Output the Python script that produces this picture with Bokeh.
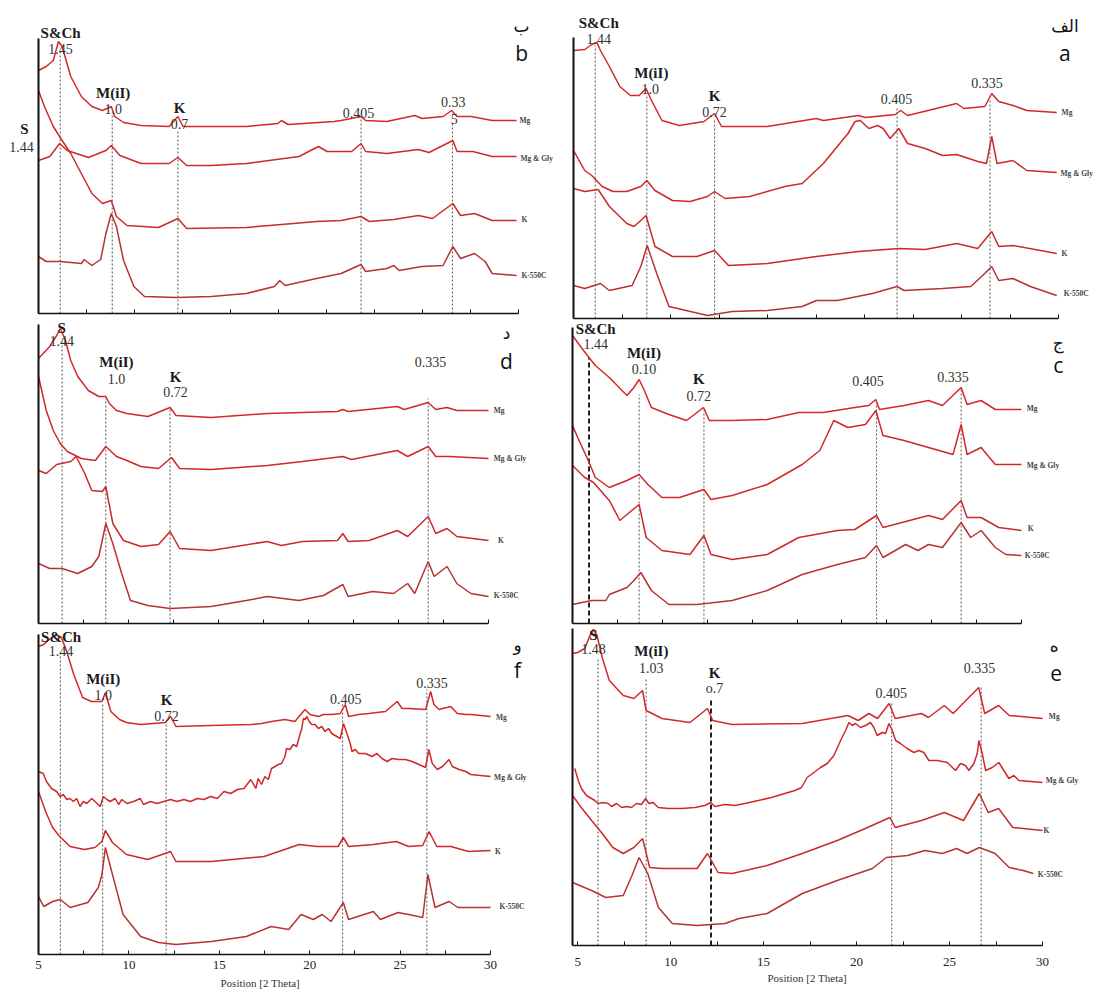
from bokeh.plotting import figure
from bokeh.layouts import column, row
from bokeh.models import Range1d, Label, FixedTicker, Title
from bokeh.embed import file_html
from bokeh.resources import INLINE

TRACE_NAMES = ["Mg", "Mg & Gly", "K", "K-550C"]
TICKS = [5, 10, 15, 20, 25, 30]
MINOR_TICKS = [7.5, 12.5, 17.5, 22.5, 27.5]
AXIS_TITLE = "Position [2 Theta]"

# ---------------- panel b (top left) ----------------
b_mg_2t = [5.0,5.4,5.77,6.04,6.23,6.68,7.23,7.78,8.33,8.79,8.97,9.43,10.34,11.8,12.26,12.53,14.0,15.83,17.47,17.65,18.0,20.4,20.76,21.8,22.04,23.14,24.6,24.97,26.07,26.52,26.8,27.53,28.63,29.9]
b_mg_int = [243,247,253,272,267,237,217,207,203,207,197,191,188,187,197,187,187,187,190,193,189,192,193,197,193,192,198,195,197,203,197,197,193,193]
b_gly_2t = [5.0,5.59,6.1,6.5,7.6,8.51,8.79,9.24,10.34,11.8,12.26,12.72,14.0,15.83,18.57,19.58,20.03,21.31,21.8,22.04,23.14,24.79,25.34,26.58,26.8,27.62,28.63,29.9]
b_gly_int = [153,157,170,163,156,163,168,158,150,150,156,148,148,150,157,167,162,162,170,162,160,164,161,173,162,162,157,157]
b_k_2t = [5.0,5.31,5.77,6.23,6.68,7.23,7.78,8.33,8.79,9.06,9.61,11.25,12.26,12.72,15.83,17.66,19.48,20.76,21.8,22.23,23.51,24.79,25.52,26.58,26.98,27.71,28.63,29.9]
b_k_int = [223,207,187,173,160,140,120,110,113,97,88,86,95,85,86,89,92,93,97,92,94,98,95,110,98,100,93,93]
b_k550_2t = [5.0,5.4,6.13,7.23,7.38,7.78,8.24,8.51,8.79,9.06,9.43,9.97,10.52,12.17,14.0,15.83,17.29,17.56,17.84,19.48,20.76,21.8,22.04,23.14,23.51,23.78,24.97,26.07,26.58,26.98,27.71,28.26,28.63,29.9]
b_k550_int = [57,52,52,50,54,48,54,80,100,87,53,27,17,16,17,20,27,33,28,35,40,49,42,45,48,43,47,48,67,55,60,52,40,38]
b_refl_2t = [6.13, 8.84, 12.26, 21.8, 26.56]
b_refl_top = [263, 200, 183, 195, 190]
b_labels = [("S&Ch", 6.15, 281, "min"), ("1.45", 6.15, 265, "num"), ("M(iI)", 8.89, 221, "min"),
            ("1.0", 8.89, 205, "num"), ("K", 12.35, 206, "min"), ("0.7", 12.35, 190, "num"),
            ("0.405", 21.67, 201, "num"), ("0.33", 26.6, 212, "num"), ("5", 26.65, 195, "num"),
            ("ب", 30.16, 288, "ar"), ("b", 30.16, 261, "let")]
b_left_labels = [("S", 24, 185, "min"), ("1.44", 21, 167, "num")]
b_trace_lab = [(30.05, 193), (30.1, 155), (30.15, 94), (30.15, 38)]

# ---------------- panel a (top right) ----------------
a_mg_2t = [5.0,5.58,5.94,6.21,6.39,6.85,7.39,7.93,8.38,8.74,9.02,9.56,10.46,11.73,12.27,12.63,14.99,17.52,17.88,19.69,20.05,21.59,21.86,22.22,24.75,25.12,26.2,26.56,26.92,27.65,28.37,29.91]
a_mg_int = [268,269,274,276,268,252,232,223,223,230,218,198,193,197,205,192,192,200,198,203,201,204,208,203,215,210,212,225,217,213,208,206]
a_gly_2t = [5.0,5.58,5.94,6.48,7.03,7.75,8.47,8.78,9.2,10.1,11.01,11.91,12.27,12.81,14.08,15.89,16.79,17.88,18.6,19.15,19.51,19.78,20.23,20.68,20.96,21.32,21.77,22.22,23.13,24.03,24.75,25.84,26.29,26.56,26.83,27.65,28.37,29.91]
a_gly_int = [168,148,143,132,127,127,132,138,128,118,117,122,127,120,122,132,135,155,172,185,197,198,190,193,190,180,190,175,170,163,164,157,155,182,155,158,148,146]
a_k_2t = [5.0,5.58,6.27,6.85,7.75,8.11,8.47,8.74,9.2,10.1,11.37,12.27,12.99,14.99,17.52,19.69,21.77,23.13,24.75,25.84,26.56,26.92,27.65,29.91]
a_k_int = [130,127,129,112,95,92,98,103,72,62,62,68,53,55,62,67,70,69,75,70,87,72,73,65]
a_k550_2t = [5.0,5.58,6.39,6.85,8.02,8.47,8.8,9.29,9.92,11.91,13.18,14.99,16.79,17.52,18.6,20.41,21.68,22.04,24.03,25.48,26.2,26.56,26.92,27.65,28.55,29.91]
a_k550_int = [33,30,35,28,33,52,73,45,12,3,7,8,12,18,18,25,32,28,30,32,45,52,38,40,32,23]
a_refl_2t = [6.12, 8.78, 12.27, 21.68, 26.47]
a_refl_top = [273, 222, 198, 212, 218]
a_labels = [("S&Ch", 6.3, 296, "min"), ("1.44", 6.3, 280, "num"), ("M(iI)", 9.01, 246, "min"),
            ("1.0", 8.96, 230, "num"), ("K", 12.27, 223, "min"), ("0.72", 12.27, 207, "num"),
            ("0.405", 21.65, 220, "num"), ("0.335", 26.31, 236, "num"), ("الف", 30.33, 293, "ar"), ("a", 30.33, 266, "let")]
a_trace_lab = [(30.16, 206), (30.1, 145), (30.16, 65), (30.27, 25)]

# ---------------- panel d (middle left) ----------------
d_mg_2t = [5.0,5.62,6.01,6.21,6.5,6.79,7.18,7.77,8.35,8.74,8.94,9.33,9.91,11.08,12.31,12.64,14.59,17.71,21.61,21.91,22.2,24.93,25.32,26.65,27.07,27.7,28.24,30.0]
d_mg_int = [265,277,288,295,283,263,247,233,227,227,220,213,210,207,216,208,206,210,212,214,212,217,214,221,214,216,213,213]
d_gly_2t = [5.0,5.43,5.82,6.21,6.6,7.38,8.16,8.74,9.33,9.91,10.69,11.67,12.39,12.84,14.59,17.71,19.66,21.91,22.39,24.93,25.51,26.65,27.07,27.85,30.0]
d_gly_int = [247,213,193,180,172,165,163,177,167,163,157,155,166,155,154,158,162,167,164,173,167,177,167,167,165]
d_k_2t = [5.0,5.43,6.01,6.79,7.09,7.57,7.96,8.55,8.74,9.13,9.72,10.69,11.67,12.31,12.84,14.59,17.71,18.49,19.66,21.61,21.91,22.2,23.37,24.93,25.51,26.65,27.07,27.7,28.24,30.0]
d_k_int = [153,150,159,162,167,150,133,132,137,100,83,77,79,92,75,73,82,78,82,83,90,82,83,93,87,107,90,95,87,83]
d_k550_2t = [5.0,5.62,6.31,7.18,7.96,8.35,8.74,9.13,9.62,10.11,11.08,12.31,14.59,16.54,17.71,19.47,20.83,21.91,22.2,23.56,24.73,25.51,25.9,26.65,26.98,27.7,28.24,29.02,30.0]
d_k550_int = [60,55,55,50,57,67,100,80,50,23,18,15,17,23,27,23,28,39,27,32,30,40,30,62,47,57,40,30,27]
d_refl_2t = [6.31, 8.74, 12.31, 26.65]
d_refl_top = [285, 225, 215, 225]
d_labels = [("S", 6.29, 296, "min"), ("1.44", 6.29, 283, "num"), ("M(iI)", 9.33, 262, "min"),
            ("1.0", 9.33, 245, "num"), ("K", 12.61, 247, "min"), ("0.72", 12.61, 232, "num"),
            ("0.335", 26.78, 262, "num"), ("د", 31.0, 291, "ar"), ("d", 31.0, 263, "let")]
d_trace_lab = [(30.29, 213), (30.29, 165), (30.53, 83), (30.29, 28)]

# ---------------- panel c (middle right) ----------------
c_mg_2t = [5.0,5.49,5.92,6.27,7.05,8.03,8.42,8.71,9.0,9.39,10.37,11.35,11.93,12.29,12.62,13.89,15.84,17.6,18.96,20.72,21.5,21.89,22.09,23.46,24.82,25.6,26.64,26.97,27.75,28.54,30.0]
c_mg_int = [288,276,266,258,246,228,236,244,233,216,209,203,211,216,203,203,204,211,211,216,218,224,214,218,223,218,236,219,223,214,214]
c_gly_2t = [5.0,5.29,5.88,6.27,7.05,8.03,8.71,9.2,9.98,10.96,12.32,12.71,13.89,15.84,17.79,18.77,19.55,20.33,21.31,21.89,22.29,23.46,24.82,26.19,26.64,26.97,27.75,28.54,30.0]
c_gly_int = [198,186,163,146,136,143,149,139,126,126,134,124,128,139,159,173,203,196,199,213,188,183,176,169,199,169,176,159,159]
c_k_2t = [5.0,5.68,6.17,7.05,7.64,8.03,8.71,9.1,9.98,11.54,12.32,12.71,13.89,15.84,17.6,19.75,20.72,21.93,22.29,24.82,25.6,26.64,26.97,27.75,28.73,30.0]
c_k_int = [158,146,141,123,103,109,119,86,73,69,88,69,64,69,86,93,94,108,96,108,104,123,106,106,96,93]
c_k550_2t = [5.0,6.07,6.86,7.05,8.03,8.42,8.81,9.39,10.37,11.93,13.89,15.84,17.79,19.75,21.31,21.93,22.29,23.55,24.24,24.82,25.6,26.64,27.17,27.75,28.54,29.12,30.0]
c_k550_int = [19,23,23,29,36,43,51,33,19,19,23,33,49,59,66,78,66,79,73,79,76,101,86,93,76,69,68]
c_refl_2t = [5.92, 8.71, 12.32, 21.93, 26.64]
c_refl_top = [266, 229, 213, 224, 236]
c_labels = [("S&Ch", 6.29, 295, "min"), ("1.44", 6.29, 280, "num"), ("M(iI)", 8.98, 271, "min"),
            ("0.10", 8.98, 255, "num"), ("K", 12.03, 245, "min"), ("0.72", 12.03, 228, "num"),
            ("0.405", 21.45, 243, "num"), ("0.335", 26.19, 247, "num"), ("ج", 32.05, 281, "ar"), ("c", 32.05, 259, "let")]
c_trace_lab = [(30.29, 215), (30.29, 158), (30.35, 95), (30.18, 68)]

# ---------------- panel f (bottom left) ----------------
f_mg_2t = [5.0,5.29,5.58,5.97,6.27,6.56,6.95,7.44,7.92,8.51,8.7,9.0,9.48,9.87,10.65,12.02,12.31,12.6,14.55,16.78,17.34,17.89,18.63,19.18,19.74,20.02,20.48,20.76,21.22,21.69,21.97,22.15,22.71,23.26,24.19,24.84,25.11,25.48,26.41,26.69,26.87,27.15,27.8,28.17,28.63,28.91,30.0]
f_mg_int = [308,310,315,320,317,303,280,257,253,253,262,243,235,232,230,232,238,228,229,230,231,233,235,233,245,240,238,240,240,241,250,238,240,241,243,253,246,246,245,263,250,245,248,241,240,240,238]
f_gly_2t = [5.0,5.26,5.44,5.72,6.0,6.19,6.37,6.56,6.74,6.93,7.11,7.3,7.48,7.67,7.94,8.13,8.41,8.59,8.78,8.96,9.24,9.43,9.61,9.89,10.26,10.63,10.81,11.19,11.56,11.93,12.3,12.67,13.04,13.41,13.78,14.15,14.52,14.89,15.26,15.63,16.0,16.37,16.74,17.02,
            17.15,17.34,17.52,17.71,17.89,18.08,18.26,18.45,18.63,18.72,18.91,19.09,19.28,19.46,19.56,19.65,19.74,19.84,19.97,20.11,20.3,20.48,20.67,20.85,21.04,21.22,21.5,21.69,21.87,22.06,22.24,22.34,22.52,22.71,23.08,23.45,23.72,24.0,24.28,24.56,24.93,25.3,25.67,26.04,26.41,26.59,26.78,27.06,27.34,27.71,27.89,28.26,28.63,28.91,30.0]
f_gly_int = [183,181,173,166,163,158,160,155,156,153,156,148,153,151,156,153,148,158,155,153,156,150,155,151,153,156,150,153,151,153,155,153,155,153,156,155,158,156,163,161,165,166,175,166,
             176,170,178,175,186,188,190,191,198,206,205,210,208,220,226,236,235,238,233,230,230,226,228,223,226,221,218,216,231,221,211,203,205,201,201,198,201,196,193,196,195,195,193,190,187,205,191,185,188,195,188,185,183,180,178]
f_k_2t = [5.0,5.39,5.78,6.17,6.75,7.53,8.12,8.51,8.7,9.09,9.87,11.04,12.31,12.6,14.55,17.48,19.42,20.4,21.57,21.86,22.15,23.52,24.79,25.47,26.25,26.6,27.03,27.81,28.78,30.0]
f_k_int = [163,143,127,118,108,105,107,113,124,112,100,95,103,93,93,98,110,108,108,117,108,110,113,108,109,123,108,108,103,104]
f_k550_2t = [5.0,5.29,5.78,6.21,6.75,7.73,8.31,8.51,8.7,9.09,9.68,10.65,11.63,12.6,14.55,16.5,17.87,18.84,19.52,20.2,20.69,21.18,21.86,22.15,23.52,23.91,24.88,25.47,26.25,26.54,26.93,27.71,28.2,30.0]
f_k550_int = [58,48,53,55,47,52,67,80,107,80,40,18,12,10,13,18,28,25,40,35,40,33,52,35,43,35,42,40,37,80,47,53,47,47]
f_refl_2t = [6.21, 8.55, 12.06, 21.82, 26.48]
f_refl_top = [303, 252, 235, 250, 265]
f_labels = [("S&Ch", 6.25, 318, "min"), ("1.44", 6.25, 304, "num"), ("M(iI)", 8.58, 276, "min"),
            ("1.0", 8.58, 260, "num"), ("K", 12.08, 255, "min"), ("0.72", 12.08, 239, "num"),
            ("0.405", 22.0, 256, "num"), ("0.335", 26.76, 272, "num"), ("و", 31.5, 310, "ar"), ("f", 31.5, 285, "let")]
f_trace_lab = [(30.3, 237), (30.2, 177), (30.25, 103), (30.5, 48)]

# ---------------- panel e (bottom right) ----------------
e_mg_2t = [4.72,5.0,5.38,5.66,5.85,6.04,6.32,6.7,7.45,8.02,8.49,8.68,9.53,11.04,11.98,12.26,13.3,17.08,19.53,20.09,20.66,21.13,21.75,22.08,23.49,23.87,24.72,25.19,26.57,26.89,27.64,28.21,30.0]
e_mg_int = [292,293,297,310,316,310,288,265,250,247,255,235,227,223,237,225,221,222,230,225,232,227,242,227,232,228,240,232,258,232,240,230,227]
e_gly_2t = [4.84,5.03,5.2,5.47,5.74,5.92,6.1,6.37,6.64,6.82,7.09,7.36,7.63,7.89,8.16,8.43,8.65,8.83,9.06,9.33,9.87,10.58,11.3,11.84,12.16,12.38,12.91,13.45,13.99,14.71,15.42,16.14,16.68,17.04,17.34,17.7,18.06,18.42,18.78,19.14,19.41,19.59,19.76,19.94,20.21,20.48,20.75,20.93,21.11,21.38,21.56,21.74,21.92,22.1,22.36,22.72,23.08,23.35,23.62,23.89,24.34,24.88,25.32,25.59,25.86,26.04,26.31,26.49,26.58,26.76,26.94,27.3,27.65,27.92,28.19,28.46,28.73,30.0]
e_gly_int = [177,165,157,150,147,145,142,143,142,139,142,138,139,138,142,141,147,142,143,138,137,137,138,140,143,139,141,140,142,145,148,152,155,158,168,173,178,182,190,205,215,223,220,222,218,220,223,218,210,213,212,222,215,205,202,197,193,195,193,185,185,183,175,182,180,175,182,192,205,192,175,178,183,175,167,170,165,163]
e_k_2t = [4.72,5.19,5.75,6.32,6.89,7.45,8.02,8.49,8.87,9.53,11.42,11.98,12.55,13.3,15.19,17.08,18.96,20.47,21.79,22.08,23.49,24.72,25.75,26.6,27.08,27.64,28.4,30.0]
e_k_int = [150,138,125,112,98,92,98,107,78,77,77,92,73,72,80,92,105,117,128,118,125,133,125,152,133,137,118,115]
e_k550_2t = [4.72,5.75,6.51,7.45,7.92,8.3,8.77,9.34,10.09,11.42,12.92,13.68,15.19,17.08,18.96,20.85,21.6,22.74,23.68,24.62,25.38,25.94,26.6,27.45,28.21,28.96,29.5]
e_k550_int = [63,55,48,50,70,88,72,38,22,20,22,27,32,52,65,77,88,90,95,92,97,92,98,92,78,75,72]
e_refl_2t = [6.09, 8.68, 12.17, 21.89, 26.7]
e_refl_top = [288, 267, 245, 243, 258]
e_labels = [("S", 5.85, 311, "min"), ("1.48", 5.85, 297, "num"), ("M(iI)", 8.96, 295, "min"),
            ("1.03", 8.96, 278, "num"), ("K", 12.36, 273, "min"), ("o.7", 12.36, 257, "num"),
            ("0.405", 21.86, 253, "num"), ("0.335", 26.61, 278, "num"), ("ه", 30.63, 300, "ar"), ("e", 30.74, 273, "let")]
e_trace_lab = [(30.34, 229), (30.17, 165), (30.06, 115), (29.75, 71)]

# ---------------- styles ----------------
TRACE_COLORS = ["#d42828", "#d02828", "#ca2a2a", "#b83232"]
STYLE = {
    "min": dict(text_font="Liberation Serif", text_font_style="bold", text_font_size="15px", text_color="#1a1a1a"),
    "num": dict(text_font="Liberation Serif", text_font_size="14px", text_color="#333333"),
    "let": dict(text_font="Open Sans", text_font_size="21px", text_color="#111111"),
    "ar": dict(text_font="DejaVu Sans", text_font_size="17px", text_color="#111111"),
}


def make_panel(traces, refl_2t, refl_top, labels, trace_lab, x0, W, H, bl, L, bt, bb,
               yaxis_top, thick=None, bottom_labels=False, tick_standoff=6,
               title_offset=None, title_standoff=4):
    fw = W - bl - 2
    fh = H - bt - bb
    x1 = 30 + (fw - L) * (30 - x0) / L
    p = figure(width=W, height=H,
               x_range=Range1d(x0, x1), y_range=Range1d(0, fh),
               output_backend="svg", toolbar_location=None,
               min_border_left=bl, min_border_right=2, min_border_top=bt, min_border_bottom=bb)
    p.grid.visible = False
    p.outline_line_color = None
    p.background_fill_color = "white"
    p.border_fill_color = "white"

    xa = p.xaxis[0]
    xa.bounds = (x0, 30)
    xa.axis_label = None
    xa.axis_label_standoff = 0
    if bottom_labels:
        xa.ticker = FixedTicker(ticks=TICKS, minor_ticks=MINOR_TICKS)
        xa.major_label_text_font = "Liberation Serif"
        xa.major_label_text_font_size = "13px"
        xa.major_label_text_color = "#222222"
        xa.major_label_standoff = tick_standoff
    else:
        xa.ticker = FixedTicker(ticks=[], minor_ticks=sorted(TICKS + MINOR_TICKS))
        xa.major_label_standoff = 0
    xa.major_tick_in = 4
    xa.major_tick_out = 0
    xa.minor_tick_in = 4
    xa.minor_tick_out = 0
    xa.axis_line_width = 1.5
    xa.axis_line_color = "#111111"
    xa.major_tick_line_color = "#111111"
    xa.minor_tick_line_color = "#111111"

    ya = p.yaxis[0]
    ya.ticker = FixedTicker(ticks=[])
    ya.axis_label = None
    ya.axis_label_standoff = 0
    ya.major_label_standoff = 0
    ya.major_tick_line_color = None
    ya.minor_tick_line_color = None
    ya.major_tick_in = 0
    ya.major_tick_out = 0
    ya.minor_tick_out = 0
    ya.axis_line_width = 2
    ya.axis_line_color = "#111111"
    ya.bounds = (0, yaxis_top)

    # reflection guide lines
    thin = [i for i in range(len(refl_2t)) if i != thick]
    p.segment(x0=[refl_2t[i] for i in thin], y0=[0] * len(thin),
              x1=[refl_2t[i] for i in thin], y1=[refl_top[i] for i in thin],
              line_color="#555555", line_width=1, line_dash="2 2")
    if thick is not None:
        p.segment(x0=[refl_2t[thick]], y0=[0], x1=[refl_2t[thick]], y1=[refl_top[thick]],
                  line_color="#222222", line_width=2, line_dash="5 3")

    for (xs, ys), col in zip(traces, TRACE_COLORS):
        p.line(xs, ys, line_color=col, line_width=1.5)

    for text, x, y, kind in labels:
        p.add_layout(Label(x=x, y=y, text=text, text_align="center", text_baseline="middle", **STYLE[kind]))

    for name, (x, y) in zip(TRACE_NAMES, trace_lab):
        p.add_layout(Label(x=x, y=y, text=name, text_align="left", text_baseline="middle",
                           text_font="Liberation Serif", text_font_style="bold",
                           text_font_size="7.5px", text_color="#444444"))

    if title_offset is not None:
        p.add_layout(Title(text=AXIS_TITLE, align="left", offset=title_offset, standoff=title_standoff,
                           text_font="Liberation Serif", text_font_size="11px",
                           text_font_style="normal", text_color="#333333"), "below")
    return p


def make_spacer(labels, W, H, bt, bb):
    fh = H - bt - bb
    p = figure(width=W, height=H, x_range=Range1d(0, W), y_range=Range1d(0, fh),
               x_axis_type=None, y_axis_type=None,
               output_backend="svg", toolbar_location=None,
               min_border_left=0, min_border_right=0, min_border_top=bt, min_border_bottom=bb)
    p.grid.visible = False
    p.outline_line_color = None
    for text, x, y, kind in labels:
        p.add_layout(Label(x=x, y=y, text=text, text_align="center", text_baseline="middle", **STYLE[kind]))
    return p


# row 1 : canvas 0..320 (b axis at 313, a axis at 318; borders equal inside a row)
sb = make_spacer(b_left_labels, 36, 315, 0, 2)
pb = make_panel([(b_mg_2t, b_mg_int), (b_gly_2t, b_gly_int), (b_k_2t, b_k_int), (b_k550_2t, b_k550_int)],
                b_refl_2t, b_refl_top, b_labels, b_trace_lab, 5, 520, 315, 2, 480, 0, 2, 275)
pa = make_panel([(a_mg_2t, a_mg_int), (a_gly_2t, a_gly_int), (a_k_2t, a_k_int), (a_k550_2t, a_k550_int)],
                a_refl_2t, a_refl_top, a_labels, a_trace_lab, 5, 550, 320, 17, 485, 0, 2, 281)
# row 2 : canvas 320..626
pd_ = make_panel([(d_mg_2t, d_mg_int), (d_gly_2t, d_gly_int), (d_k_2t, d_k_int), (d_k550_2t, d_k550_int)],
                 d_refl_2t, d_refl_top, d_labels, d_trace_lab, 5, 556, 306, 38, 450, 0, 3, 299)
pc = make_panel([(c_mg_2t, c_mg_int), (c_gly_2t, c_gly_int), (c_k_2t, c_k_int), (c_k550_2t, c_k550_int)],
                c_refl_2t, c_refl_top, c_labels, c_trace_lab, 5, 550, 306, 16, 449, 0, 3, 296, thick=0)
# row 3 : canvas 626..996 (f axis at 954, e axis at 945)
pf = make_panel([(f_mg_2t, f_mg_int), (f_gly_2t, f_gly_int), (f_k_2t, f_k_int), (f_k550_2t, f_k550_int)],
                f_refl_2t, f_refl_top, f_labels, f_trace_lab, 5, 556, 370, 38, 452, 0, 42, 320,
                bottom_labels=True, tick_standoff=6, title_offset=182, title_standoff=6)
pe = make_panel([(e_mg_2t, e_mg_int), (e_gly_2t, e_gly_int), (e_k_2t, e_k_int), (e_k550_2t, e_k550_int)],
                e_refl_2t, e_refl_top, e_labels, e_trace_lab, 4.72, 550, 361, 16, 470, 0, 42, 317,
                thick=2, bottom_labels=True, tick_standoff=12, title_offset=195, title_standoff=2)

layout = column(row(sb, pb, pa), row(pd_, pc), row(pf, pe))
open("out.html", "w").write(file_html(layout, INLINE))
